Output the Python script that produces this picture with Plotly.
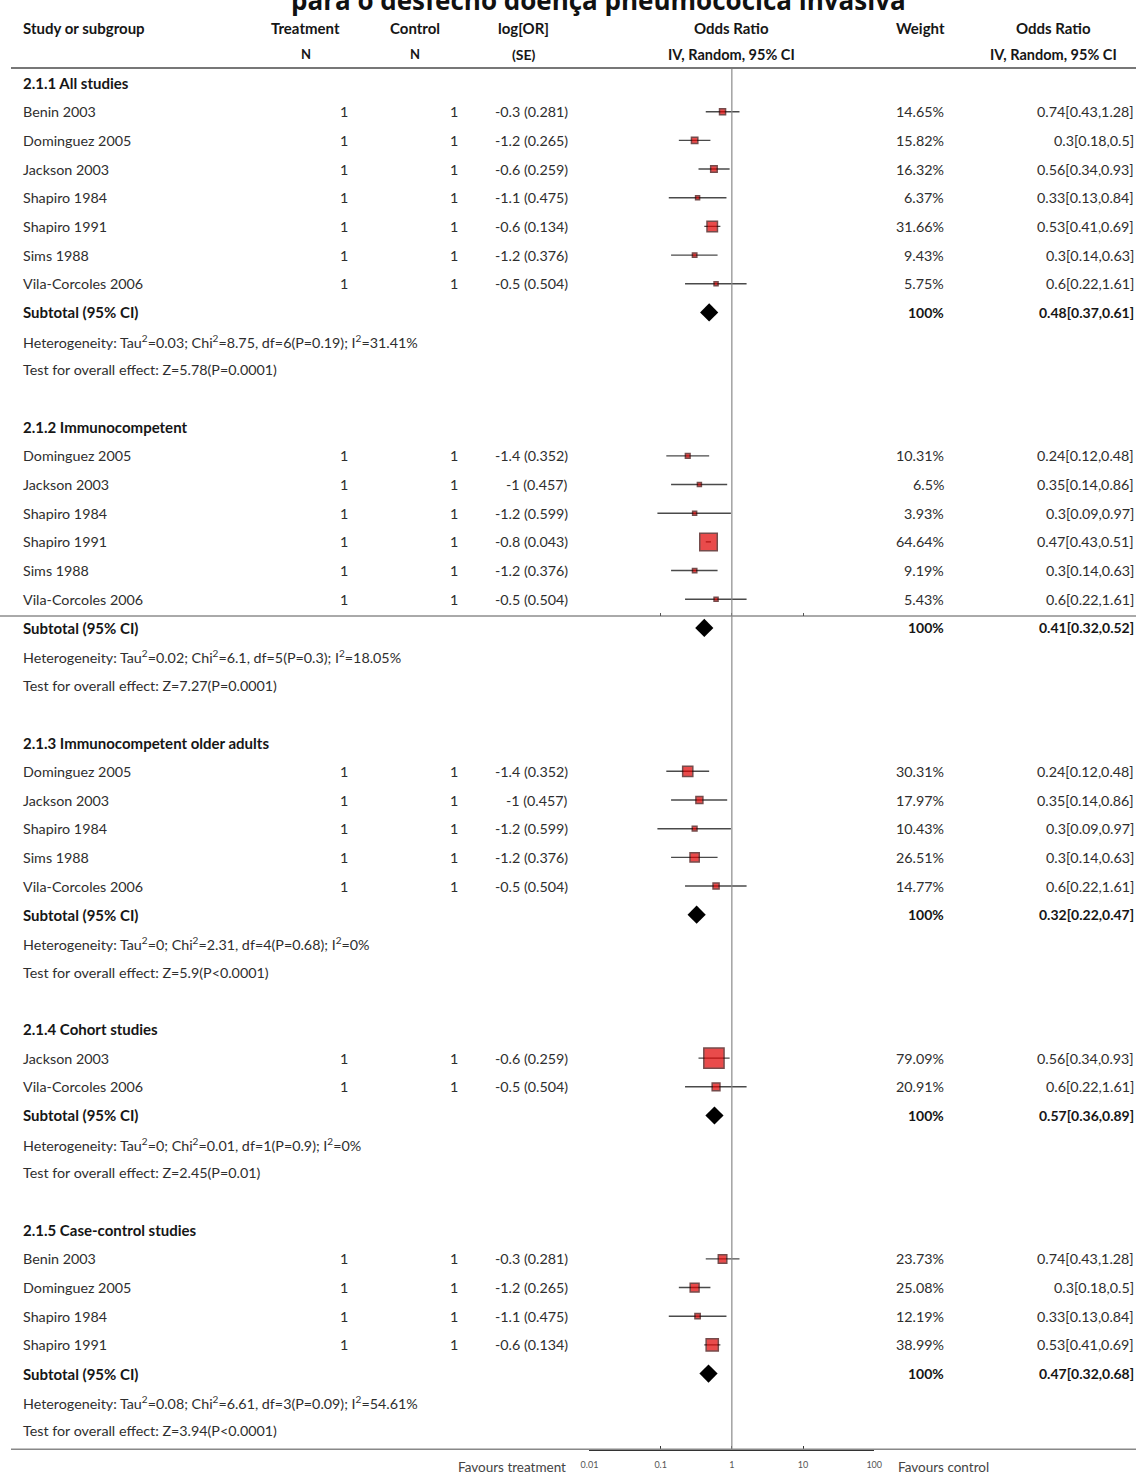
import math
import plotly.graph_objects as go

W, H = 1136, 1475

title_text = "para o desfecho doença pneumocócica invasiva"

# ---------------- data ----------------
sg_names = ["2.1.1 All studies", "2.1.2 Immunocompetent",
            "2.1.3 Immunocompetent older adults", "2.1.4 Cohort studies",
            "2.1.5 Case-control studies"]

sg1_study = ["Benin 2003", "Dominguez 2005", "Jackson 2003", "Shapiro 1984",
             "Shapiro 1991", "Sims 1988", "Vila-Corcoles 2006"]
sg1_logor = [-0.3, -1.2, -0.6, -1.1, -0.6, -1.2, -0.5]
sg1_se = [0.281, 0.265, 0.259, 0.475, 0.134, 0.376, 0.504]
sg1_weight = [14.65, 15.82, 16.32, 6.37, 31.66, 9.43, 5.75]
sg1_or = [0.74, 0.3, 0.56, 0.33, 0.53, 0.3, 0.6]
sg1_lo = [0.43, 0.18, 0.34, 0.13, 0.41, 0.14, 0.22]
sg1_hi = [1.28, 0.5, 0.93, 0.84, 0.69, 0.63, 1.61]

sg2_study = ["Dominguez 2005", "Jackson 2003", "Shapiro 1984", "Shapiro 1991",
             "Sims 1988", "Vila-Corcoles 2006"]
sg2_logor = [-1.4, -1, -1.2, -0.8, -1.2, -0.5]
sg2_se = [0.352, 0.457, 0.599, 0.043, 0.376, 0.504]
sg2_weight = [10.31, 6.5, 3.93, 64.64, 9.19, 5.43]
sg2_or = [0.24, 0.35, 0.3, 0.47, 0.3, 0.6]
sg2_lo = [0.12, 0.14, 0.09, 0.43, 0.14, 0.22]
sg2_hi = [0.48, 0.86, 0.97, 0.51, 0.63, 1.61]

sg3_study = ["Dominguez 2005", "Jackson 2003", "Shapiro 1984", "Sims 1988",
             "Vila-Corcoles 2006"]
sg3_logor = [-1.4, -1, -1.2, -1.2, -0.5]
sg3_se = [0.352, 0.457, 0.599, 0.376, 0.504]
sg3_weight = [30.31, 17.97, 10.43, 26.51, 14.77]
sg3_or = [0.24, 0.35, 0.3, 0.3, 0.6]
sg3_lo = [0.12, 0.14, 0.09, 0.14, 0.22]
sg3_hi = [0.48, 0.86, 0.97, 0.63, 1.61]

sg4_study = ["Jackson 2003", "Vila-Corcoles 2006"]
sg4_logor = [-0.6, -0.5]
sg4_se = [0.259, 0.504]
sg4_weight = [79.09, 20.91]
sg4_or = [0.56, 0.6]
sg4_lo = [0.34, 0.22]
sg4_hi = [0.93, 1.61]

sg5_study = ["Benin 2003", "Dominguez 2005", "Shapiro 1984", "Shapiro 1991"]
sg5_logor = [-0.3, -1.2, -1.1, -0.6]
sg5_se = [0.281, 0.265, 0.475, 0.134]
sg5_weight = [23.73, 25.08, 12.19, 38.99]
sg5_or = [0.74, 0.3, 0.33, 0.53]
sg5_lo = [0.43, 0.18, 0.13, 0.41]
sg5_hi = [1.28, 0.5, 0.84, 0.69]

treat_n = 1
control_n = 1

sub_or = [0.48, 0.41, 0.32, 0.57, 0.47]
sub_lo = [0.37, 0.32, 0.22, 0.36, 0.32]
sub_hi = [0.61, 0.52, 0.47, 0.89, 0.68]
sub_weight = [100, 100, 100, 100, 100]

het_text = [
    "Heterogeneity: Tau<sup>2</sup>=0.03; Chi<sup>2</sup>=8.75, df=6(P=0.19); I<sup>2</sup>=31.41%",
    "Heterogeneity: Tau<sup>2</sup>=0.02; Chi<sup>2</sup>=6.1, df=5(P=0.3); I<sup>2</sup>=18.05%",
    "Heterogeneity: Tau<sup>2</sup>=0; Chi<sup>2</sup>=2.31, df=4(P=0.68); I<sup>2</sup>=0%",
    "Heterogeneity: Tau<sup>2</sup>=0; Chi<sup>2</sup>=0.01, df=1(P=0.9); I<sup>2</sup>=0%",
    "Heterogeneity: Tau<sup>2</sup>=0.08; Chi<sup>2</sup>=6.61, df=3(P=0.09); I<sup>2</sup>=54.61%",
]
test_text = [
    "Test for overall effect: Z=5.78(P=0.0001)",
    "Test for overall effect: Z=7.27(P=0.0001)",
    "Test for overall effect: Z=5.9(P<0.0001)",
    "Test for overall effect: Z=2.45(P=0.01)",
    "Test for overall effect: Z=3.94(P<0.0001)",
]

tick_vals = [0.01, 0.1, 1, 10, 100]
tick_text = ["0.01", "0.1", "1", "10", "100"]

groups = [
    (sg1_study, sg1_logor, sg1_se, sg1_weight, sg1_or, sg1_lo, sg1_hi),
    (sg2_study, sg2_logor, sg2_se, sg2_weight, sg2_or, sg2_lo, sg2_hi),
    (sg3_study, sg3_logor, sg3_se, sg3_weight, sg3_or, sg3_lo, sg3_hi),
    (sg4_study, sg4_logor, sg4_se, sg4_weight, sg4_or, sg4_lo, sg4_hi),
    (sg5_study, sg5_logor, sg5_se, sg5_weight, sg5_or, sg5_lo, sg5_hi),
]

# ---------------- layout constants ----------------
FONT = "Lato"
FS = 14.3
FSB = 15
TXT = "#2e2e2e"
BOLD = "#161616"
ROW_PX = 28.68
TOP = -83 / ROW_PX                 # row value at pixel 0
PLOT_H = 1450
BOT = TOP + PLOT_H / ROW_PX        # row value at plot bottom
OFF_X, EFF_W = 8, 1120             # where the figure actually lands on the page


def yrow(px):
    return px / ROW_PX + TOP


def xp(px):
    return (px - OFF_X) / EFF_W


ann = []


def add_text(x_px, y, text, align="left", bold=False, size=None, color=None):
    ann.append(dict(
        x=xp(x_px), y=y, xref="paper", yref="y",
        text=("<b>%s</b>" % text) if bold else text,
        showarrow=False, xanchor=align, yanchor="middle", borderpad=0, borderwidth=0,
        font=dict(family=FONT, size=size or (FSB if bold else FS),
                  color=color or (BOLD if bold else TXT)),
    ))


def fmt(v):
    return "%g" % v


# headers
hy1, hy2 = yrow(28), yrow(54)
add_text(22, hy1, "Study or subgroup", bold=True)
add_text(305, hy1, "Treatment", "center", bold=True)
add_text(305, hy2, "N", "center", bold=True, size=13)
add_text(414, hy1, "Control", "center", bold=True)
add_text(414, hy2, "N", "center", bold=True, size=13)
add_text(523, hy1, "log[OR]", "center", bold=True)
add_text(523, hy2, "(SE)", "center", bold=True, size=14)
add_text(731, hy1, "Odds Ratio", "center", bold=True)
add_text(731, hy2, "IV, Random, 95% CI", "center", bold=True, size=14.5)
add_text(920, hy1, "Weight", "center", bold=True)
add_text(1053, hy1, "Odds Ratio", "center", bold=True)
add_text(1053, hy2, "IV, Random, 95% CI", "center", bold=True, size=14.5)

RIGHT_OR = 1134

# rows
ci_x, ci_y = [], []
pt_x, pt_y, pt_s = [], [], []
dm_x, dm_y = [], []
r = 0
for g, (study, logor, se, wt, orr, lo, hi) in enumerate(groups):
    add_text(22, r, sg_names[g], bold=True)
    r += 1
    for i in range(len(study)):
        add_text(22, r, study[i])
        add_text(343, r, str(treat_n), "center")
        add_text(453, r, str(control_n), "center")
        add_text(567, r, "%s (%s)" % (fmt(logor[i]), fmt(se[i])), "right")
        add_text(944, r, fmt(wt[i]) + "%", "right")
        add_text(RIGHT_OR, r, "%s[%s,%s]" % (fmt(orr[i]), fmt(lo[i]), fmt(hi[i])), "right")
        ci_x += [lo[i], hi[i], None]
        ci_y += [r, r, None]
        pt_x.append(orr[i])
        pt_y.append(r)
        pt_s.append(max(4.0, 0.87 * wt[i] ** 0.72))
        r += 1
    add_text(22, r, "Subtotal (95% CI)", bold=True)
    add_text(944, r, fmt(sub_weight[g]) + "%", "right", bold=True, size=14)
    add_text(RIGHT_OR, r, "%s[%s,%s]" % (fmt(sub_or[g]), fmt(sub_lo[g]), fmt(sub_hi[g])),
             "right", bold=True, size=14)
    dm_x.append(sub_or[g])
    dm_y.append(r)
    r += 1
    add_text(22, r, het_text[g])
    r += 1
    add_text(22, r, test_text[g])
    r += 2

# bottom labels (paper y relative to the plot area, which ends at pixel 1450)
fav_y = -(1467 - PLOT_H) / PLOT_H
ann.append(dict(x=xp(566), y=fav_y, xref="paper", yref="paper", text="Favours treatment",
                showarrow=False, xanchor="right", yanchor="middle", borderpad=0,
                font=dict(family=FONT, size=13.5, color="#444")))
ann.append(dict(x=xp(897), y=fav_y, xref="paper", yref="paper", text="Favours control",
                showarrow=False, xanchor="left", yanchor="middle", borderpad=0,
                font=dict(family=FONT, size=13.5, color="#444")))

# title (clipped at the top edge as in the reference)
ann.append(dict(x=xp(598), y=1.0, xref="paper", yref="paper",
                text="<b>%s</b>" % title_text, showarrow=False,
                xanchor="center", yanchor="middle", borderpad=0,
                font=dict(family="Open Sans", size=26, color="#111")))

fig = go.Figure()
fig.add_trace(go.Scatter(x=ci_x, y=ci_y, mode="lines",
                         line=dict(color="#4a4a4a", width=1.4),
                         hoverinfo="skip", showlegend=False))
fig.add_trace(go.Scatter(x=pt_x, y=pt_y, mode="markers",
                         marker=dict(symbol="square", size=pt_s, color="#e00000",
                                     line=dict(color="#3c0000", width=1.5)),
                         showlegend=False))
fig.add_trace(go.Scatter(x=dm_x, y=dm_y, mode="markers",
                         marker=dict(symbol="diamond", size=14, color="black",
                                     line=dict(width=0)),
                         showlegend=False))

shapes = [
    # header rule
    dict(type="line", xref="paper", yref="y", x0=xp(10), x1=1.01, y0=yrow(68), y1=yrow(68),
         line=dict(color="#777777", width=2)),
    # stray rule in the middle of the figure
    dict(type="line", xref="paper", yref="y", x0=-0.01, x1=1.01, y0=yrow(616), y1=yrow(616),
         line=dict(color="#555555", width=1)),
    # bottom rule
    dict(type="line", xref="paper", yref="y", x0=xp(10), x1=1.01, y0=BOT - 0.02, y1=BOT - 0.02,
         line=dict(color="#888888", width=2)),
    # line of no effect
    dict(type="line", xref="x", yref="y", x0=1, x1=1, y0=yrow(69), y1=BOT,
         line=dict(color="#8a8a8a", width=1.2)),
]

dom = [xp(589), xp(874)]
fig.update_layout(
    width=W, height=H,
    margin=dict(l=0, r=0, t=0, b=H - PLOT_H),
    paper_bgcolor="white", plot_bgcolor="rgba(0,0,0,0)",
    showlegend=False,
    annotations=ann,
    shapes=shapes,
    xaxis=dict(type="log", range=[-2, 2], domain=dom, tickvals=tick_vals, ticktext=tick_text,
               ticks="inside", ticklen=4, tickcolor="#333", showline=True, linecolor="#333",
               linewidth=1.2, showgrid=False, zeroline=False, ticklabelstandoff=6,
               tickfont=dict(family=FONT, size=9, color="#555")),
    xaxis2=dict(type="log", range=[-2, 2], domain=dom, overlaying="x", anchor="free",
                position=1 - 616 / PLOT_H, tickvals=tick_vals, ticks="inside", ticklen=3,
                tickcolor="#555", showticklabels=False, showline=False, showgrid=False,
                zeroline=False),
    yaxis=dict(range=[BOT, TOP], visible=False, showgrid=False, zeroline=False),
)
# invisible trace so that xaxis2 is drawn
fig.add_trace(go.Scatter(x=[1], y=[0], xaxis="x2", mode="markers",
                         marker=dict(opacity=0), hoverinfo="skip", showlegend=False))

fig.write_html("out.html")
